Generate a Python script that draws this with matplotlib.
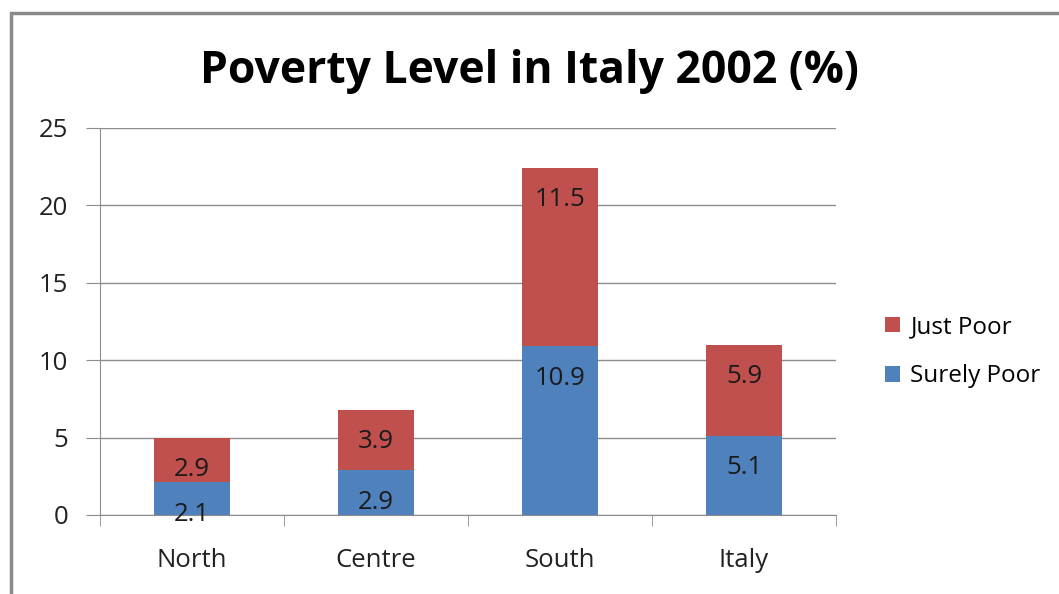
import matplotlib.pyplot as plt
from matplotlib.patches import Rectangle

# data
regions = ["North", "Centre", "South", "Italy"]
surely_poor = [2.1, 2.9, 10.9, 5.1]
just_poor = [2.9, 3.9, 11.5, 5.9]

blue = "#4F81BD"
red = "#C0504D"
plt.rcParams["font.family"] = ["Open Sans", "DejaVu Sans"]

fig = plt.figure(figsize=(10.59, 5.94), dpi=100)
ax = fig.add_axes([0.0944, 0.133, 0.6950, 0.652])

x = list(range(len(regions)))
b1 = ax.bar(x, surely_poor, width=0.41, color=blue, label="Surely Poor", zorder=3)
b2 = ax.bar(x, just_poor, width=0.41, bottom=surely_poor, color=red, label="Just Poor", zorder=3)

# value labels sit near the top of each segment
tops_blue = surely_poor
tops_red = [s + j for s, j in zip(surely_poor, just_poor)]
for i in x:
    ax.annotate(f"{surely_poor[i]}", (i, tops_blue[i]), xytext=(0, -23),
                textcoords="offset points", ha="center", va="center",
                fontsize=18.5, color="#1a1a1a", zorder=4)
    ax.annotate(f"{just_poor[i]}", (i, tops_red[i]), xytext=(0, -23),
                textcoords="offset points", ha="center", va="center",
                fontsize=18.5, color="#1a1a1a", zorder=4)

ax.set_xlim(-0.5, 3.5)
ax.set_ylim(0, 25)
ax.set_yticks([0, 5, 10, 15, 20, 25])
ax.yaxis.grid(True, color="#8c8c8c", linewidth=1.0, zorder=0)
ax.set_axisbelow(True)
for s in ["top", "right"]:
    ax.spines[s].set_visible(False)
ax.spines["left"].set_color("#8c8c8c")
ax.spines["bottom"].set_color("#8c8c8c")

ax.set_xticks(x)
ax.set_xticklabels(regions)
ax.set_xticks([-0.5, 0.5, 1.5, 2.5, 3.5], minor=True)
ax.tick_params(axis="x", which="major", length=0, pad=24, labelsize=18.5, colors="#222222")
ax.tick_params(axis="x", which="minor", length=8, color="#8c8c8c")
ax.tick_params(axis="y", length=10, color="#8c8c8c", labelsize=18.5, pad=13, labelcolor="#222222")

fig.text(0.5, 0.88, "Poverty Level in Italy 2002 (%)", ha="center", va="center",
         fontsize=32, fontweight="bold", color="black")

handles = [b2, b1]
fig.legend(handles, ["Just Poor", "Surely Poor"], loc="center left",
           bbox_to_anchor=(0.815, 0.408), frameon=False, fontsize=17.5,
           handlelength=0.6, handleheight=0.6, handletextpad=0.45, labelspacing=1.05)

# outer chart frame (cropped)
fig.patches.append(Rectangle((11 / 1059, -0.1), 1.2, 1 - 13 / 594 + 0.1,
                             transform=fig.transFigure, fill=False,
                             edgecolor="#8a8a8a", linewidth=2.5))

fig.savefig("out.png", dpi=100)
